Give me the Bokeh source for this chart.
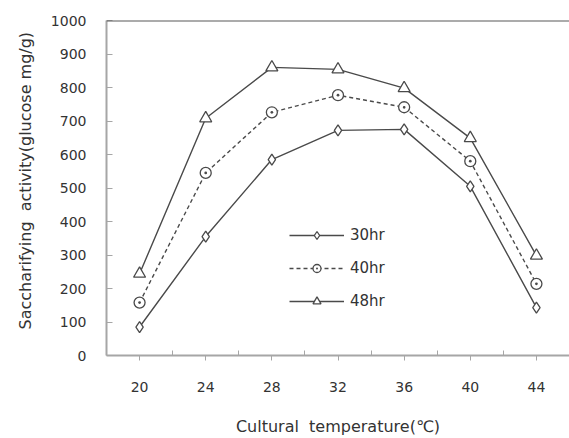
from bokeh.plotting import figure
from bokeh.models import FixedTicker, Range1d, Legend, LegendItem, Span, Title
from bokeh.embed import file_html
from bokeh.resources import INLINE

temps = [20, 24, 28, 32, 36, 40, 44]
hr30 = [85, 355, 585, 672, 675, 505, 143]
hr40 = [158, 545, 726, 777, 741, 580, 214]
hr48 = [244, 708, 860, 854, 798, 649, 298]
y_ticks = [0, 100, 200, 300, 400, 500, 600, 700, 800, 900, 1000]

FONT = "DejaVu Sans"
TXT = "#333333"

p = figure(width=569, height=438, output_backend="svg", toolbar_location=None,
           x_range=Range1d(18, 46), y_range=Range1d(0, 1000),
           min_border_left=105, min_border_right=0, min_border_top=20, min_border_bottom=82)
p.outline_line_color = None
p.grid.visible = False
p.background_fill_color = "white"
p.border_fill_color = "white"

xa = p.xaxis[0]
xa.ticker = FixedTicker(ticks=temps, minor_ticks=[22, 26, 30, 34, 38, 42])
xa.major_tick_in = 0
xa.major_tick_out = 5
xa.minor_tick_in = 5
xa.minor_tick_out = 0
xa.axis_line_color = "#a6a6a6"
xa.axis_line_width = 2
xa.major_tick_line_color = "#a6a6a6"
xa.minor_tick_line_color = "#a6a6a6"
xa.major_label_text_font = FONT
xa.major_label_text_font_size = "14px"
xa.major_label_text_color = TXT
xa.major_label_standoff = 21
xa.axis_label = "Cultural\u00a0\u00a0temperature(\u2103)"
xa.axis_label_text_font = FONT
xa.axis_label_text_font_size = "16px"
xa.axis_label_text_font_style = "normal"
xa.axis_label_text_color = TXT
xa.axis_label_standoff = 22

ya = p.yaxis[0]
ya.ticker = FixedTicker(ticks=y_ticks)
ya.major_tick_in = 6
ya.major_tick_out = 0
ya.minor_tick_line_color = None
ya.axis_line_color = "#a6a6a6"
ya.axis_line_width = 2
ya.major_tick_line_color = "#a6a6a6"
ya.major_label_text_font = FONT
ya.major_label_text_font_size = "14px"
ya.major_label_text_color = TXT
ya.major_label_standoff = 20

ytitle = Title(text="Saccharifying\u00a0\u00a0activity(glucose mg/g)", align="left", offset=26,
               text_font=FONT, text_font_size="16px", text_font_style="normal",
               text_color=TXT, standoff=26)
p.add_layout(ytitle, "left")

p.add_layout(Span(location=1000, dimension="width", line_color="#595959", line_width=2))
p.add_layout(Span(location=46, dimension="height", line_color="#c8c8c8", line_width=1))

LC = "#4a4a4a"
l1 = p.line(temps, hr30, line_color=LC, line_width=1.4)
m1 = p.scatter(temps, hr30, marker="diamond", size=11, line_color=LC, fill_color="white", line_width=1.3)
l2 = p.line(temps, hr40, line_color=LC, line_width=1.4, line_dash="4 3")
m2 = p.scatter(temps, hr40, marker="circle_dot", size=11, line_color=LC, fill_color="white", line_width=1.3)
l3 = p.line(temps, hr48, line_color=LC, line_width=1.4)
m3 = p.scatter(temps, hr48, marker="triangle", size=12, line_color=LC, fill_color="white", line_width=1.3)

legend = Legend(items=[LegendItem(label="30hr", renderers=[l1, m1]),
                       LegendItem(label="40hr", renderers=[l2, m2]),
                       LegendItem(label="48hr", renderers=[l3, m3])],
                location=(183, 44), padding=0, margin=0, spacing=13,
                glyph_width=55, glyph_height=20, label_standoff=6,
                border_line_color=None, background_fill_alpha=0,
                label_text_font=FONT, label_text_font_size="15px", label_text_color=TXT)
p.add_layout(legend)

open("out.html", "w").write(file_html(p, INLINE))
